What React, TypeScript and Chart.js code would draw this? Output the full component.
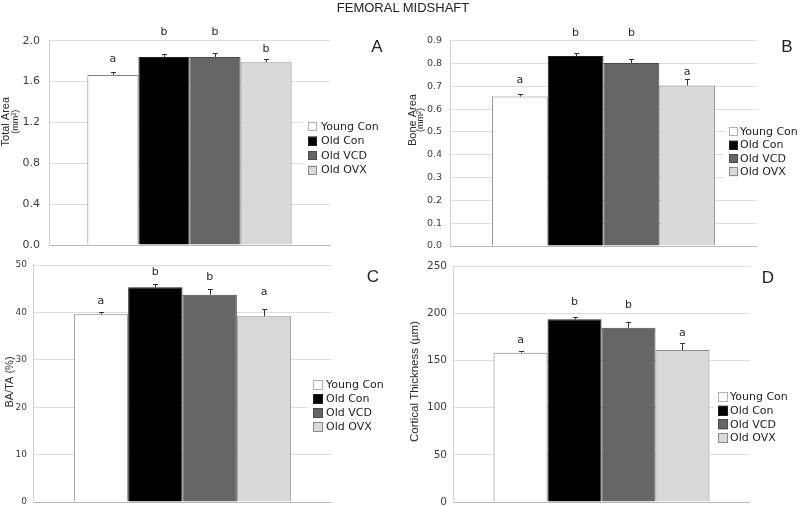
import React, { useEffect, useRef } from 'react';
import { Chart, registerables } from 'chart.js';

Chart.register(...registerables);

// ---------- data ----------
const groups = ['Young Con', 'Old Con', 'Old VCD', 'Old OVX'];

const totalArea = [1.665, 1.84, 1.84, 1.79];
const totalAreaErr = [0.03, 0.027, 0.04, 0.027];
const totalAreaLetters = ['a', 'b', 'b', 'b'];
const totalAreaLetterAt = [1.82, 2.085, 2.085, 1.92];
const totalAreaTicks = [0, 0.4, 0.8, 1.2, 1.6, 2.0];

const boneArea = [0.655, 0.833, 0.802, 0.704];
const boneAreaErr = [0.013, 0.011, 0.016, 0.027];
const boneAreaLetters = ['a', 'b', 'b', 'a'];
const boneAreaLetterAt = [0.728, 0.934, 0.934, 0.763];
const boneAreaTicks = [0, 0.1, 0.2, 0.3, 0.4, 0.5, 0.6, 0.7, 0.8, 0.9];

const baTa = [39.6, 45.3, 43.7, 39.2];
const baTaErr = [0.55, 0.6, 1.2, 1.5];
const baTaLetters = ['a', 'b', 'b', 'a'];
const baTaLetterAt = [42.3, 48.4, 47.4, 44.2];
const baTaTicks = [0, 10, 20, 30, 40, 50];

const corticalThickness = [158.2, 193.5, 184.6, 161];
const corticalThicknessErr = [2, 2.5, 5.7, 7];
const corticalThicknessLetters = ['a', 'b', 'b', 'a'];
const corticalThicknessLetterAt = [171.6, 211.5, 208.4, 179.3];
const corticalThicknessTicks = [0, 50, 100, 150, 200, 250];

// ---------- styles / layout ----------
const groupFill = ['#ffffff', '#000000', '#666666', '#d9d9d9'];
const groupBorder = ['#808080', '#202020', '#4a4a4a', '#8a8a8a'];
const VERDANA = '"DejaVu Sans", Verdana, sans-serif';
const ARIAL = '"Liberation Sans", Arial, sans-serif';

type PanelCfg = {
  key: string;
  values: number[];
  errors: number[];
  letters: string[];
  letterAt: number[];
  ticks: number[];
  decimals: number;
  canvas: { left: number; top: number; w: number; h: number };
  area: { left: number; right: number; top: number; bottom: number };
  tickFont: number;
  tickGap: number;
  titles: { text: string; x: number; size: number }[];
  titleY: number;
  label: { text: string; x: number; y: number };
  legend: { boxX: number; textX: number; y0: number; step: number; box: number };
};

const panels: PanelCfg[] = [
  {
    key: 'A', values: totalArea, errors: totalAreaErr, letters: totalAreaLetters, letterAt: totalAreaLetterAt,
    ticks: totalAreaTicks, decimals: 1,
    canvas: { left: 0, top: 0, w: 400, h: 280 },
    area: { left: 49, right: 330, top: 40.7, bottom: 245 },
    tickFont: 11, tickGap: 9,
    titles: [{ text: 'Total Area', x: 6, size: 11 }, { text: '(mm²)', x: 15.5, size: 9 }], titleY: 121.7,
    label: { text: 'A', x: 377, y: 47 },
    legend: { boxX: 308, textX: 321, y0: 126.5, step: 14.5, box: 9 },
  },
  {
    key: 'B', values: boneArea, errors: boneAreaErr, letters: boneAreaLetters, letterAt: boneAreaLetterAt,
    ticks: boneAreaTicks, decimals: 1,
    canvas: { left: 400, top: 0, w: 400, h: 280 },
    area: { left: 50, right: 357, top: 40.7, bottom: 246 },
    tickFont: 9.5, tickGap: 8,
    titles: [{ text: 'Bone Area', x: 12.5, size: 11 }, { text: '(mm²)', x: 20.5, size: 9 }], titleY: 120,
    label: { text: 'B', x: 387, y: 47 },
    legend: { boxX: 329, textX: 340, y0: 131.7, step: 13.4, box: 9 },
  },
  {
    key: 'C', values: baTa, errors: baTaErr, letters: baTaLetters, letterAt: baTaLetterAt,
    ticks: baTaTicks, decimals: 0,
    canvas: { left: 0, top: 253, w: 400, h: 280 },
    area: { left: 33, right: 332, top: 12, bottom: 249 },
    tickFont: 9, tickGap: 6,
    titles: [{ text: 'BA/TA (%)', x: 10, size: 11 }], titleY: 129,
    label: { text: 'C', x: 373, y: 24 },
    legend: { boxX: 313, textX: 326, y0: 132, step: 14, box: 10 },
  },
  {
    key: 'D', values: corticalThickness, errors: corticalThicknessErr, letters: corticalThicknessLetters,
    letterAt: corticalThicknessLetterAt, ticks: corticalThicknessTicks, decimals: 0,
    canvas: { left: 400, top: 253, w: 400, h: 280 },
    area: { left: 53, right: 350, top: 13, bottom: 249 },
    tickFont: 10.5, tickGap: 6,
    titles: [{ text: 'Cortical Thickness (µm)', x: 15, size: 11.5 }], titleY: 128.5,
    label: { text: 'D', x: 368, y: 25 },
    legend: { boxX: 318, textX: 330, y0: 144, step: 13.7, box: 10 },
  },
];

function makeDecor(cfg: PanelCfg) {
  return {
    id: 'decor' + cfg.key,
    afterDatasetsDraw(chart: any) {
      const ctx = chart.ctx;
      const y = chart.scales.y;
      ctx.save();
      ctx.strokeStyle = '#333333';
      ctx.lineWidth = 1;
      cfg.values.forEach((v, i) => {
        const el = chart.getDatasetMeta(i).data[0];
        if (!el) return;
        const x = Math.round(el.x) + 0.5;
        const yTop = Math.round(y.getPixelForValue(v + cfg.errors[i])) + 0.5;
        const yBar = y.getPixelForValue(v);
        ctx.beginPath();
        ctx.moveTo(x, yBar);
        ctx.lineTo(x, yTop);
        ctx.moveTo(x - 2.5, yTop);
        ctx.lineTo(x + 2.5, yTop);
        ctx.stroke();
      });
      ctx.restore();
    },
    afterDraw(chart: any) {
      const ctx = chart.ctx;
      const y = chart.scales.y;
      ctx.save();
      // significance letters
      ctx.fillStyle = '#2a2a2a';
      ctx.font = `11px ${VERDANA}`;
      ctx.textAlign = 'center';
      ctx.textBaseline = 'middle';
      cfg.letters.forEach((t, i) => {
        const el = chart.getDatasetMeta(i).data[0];
        if (!el) return;
        ctx.fillText(t, el.x, y.getPixelForValue(cfg.letterAt[i]));
      });
      // panel label
      ctx.font = `17px ${ARIAL}`;
      ctx.fillStyle = '#222222';
      ctx.fillText(cfg.label.text, cfg.label.x, cfg.label.y);
      // axis title
      cfg.titles.forEach((t) => {
        ctx.save();
        ctx.translate(t.x, cfg.titleY);
        ctx.rotate(-Math.PI / 2);
        ctx.font = `${t.size}px ${ARIAL}`;
        ctx.fillStyle = '#2a2a2a';
        ctx.textAlign = 'center';
        ctx.textBaseline = 'middle';
        ctx.fillText(t.text, 0, 0);
        ctx.restore();
      });
      // legend
      const lg = cfg.legend;
      ctx.fillStyle = '#ffffff';
      ctx.fillRect(lg.boxX - 5, lg.y0 - lg.step * 0.8, 90, lg.step * 4.6);
      ctx.font = `11px ${VERDANA}`;
      ctx.textAlign = 'left';
      ctx.textBaseline = 'middle';
      chart.data.datasets.forEach((ds: any, i: number) => {
        const cy = lg.y0 + i * lg.step;
        ctx.fillStyle = ds.backgroundColor;
        ctx.fillRect(lg.boxX, cy - lg.box / 2, lg.box, lg.box);
        ctx.strokeStyle = i === 0 ? '#b0b0b0' : ds.borderColor;
        ctx.lineWidth = 1;
        ctx.strokeRect(lg.boxX + 0.5, Math.round(cy - lg.box / 2) + 0.5, lg.box - 1, lg.box - 1);
        ctx.fillStyle = '#222222';
        ctx.fillText(ds.label, lg.textX, cy + 0.5);
      });
      ctx.restore();
    },
  };
}

function Panel({ cfg }: { cfg: PanelCfg }) {
  const ref = useRef<HTMLCanvasElement | null>(null);
  useEffect(() => {
    if (!ref.current) return;
    const { w, h } = cfg.canvas;
    const t = cfg.ticks;
    const chart = new Chart(ref.current, {
      type: 'bar',
      data: {
        labels: [''],
        datasets: groups.map((g, i) => ({
          label: g,
          data: [cfg.values[i]],
          backgroundColor: groupFill[i],
          borderColor: groupBorder[i],
          borderWidth: 1,
          categoryPercentage: 0.727,
          barPercentage: 1,
        })),
      },
      options: {
        animation: false,
        responsive: false,
        devicePixelRatio: 1,
        layout: {
          padding: {
            left: 0,
            top: cfg.area.top,
            right: w - cfg.area.right,
            bottom: h - cfg.area.bottom,
          },
        },
        plugins: {
          legend: { display: false },
          tooltip: { enabled: false },
          title: { display: false },
        },
        scales: {
          x: { display: false },
          y: {
            min: t[0],
            max: t[t.length - 1],
            afterFit: (scale: any) => {
              scale.width = cfg.area.left;
            },
            ticks: {
              stepSize: t[1] - t[0],
              padding: cfg.tickGap,
              color: '#3c3c3c',
              font: { family: VERDANA, size: cfg.tickFont },
              callback: (v: any) => Number(v).toFixed(cfg.decimals),
            },
            grid: {
              drawTicks: false,
              color: (c: any) => (c.tick && c.tick.value === 0 ? '#b8b8b8' : '#dedede'),
              lineWidth: 1,
            },
            border: { display: true, color: '#d2d2d2' },
          },
        },
      },
      plugins: [makeDecor(cfg)],
    } as any);
    return () => chart.destroy();
  }, [cfg]);
  const c = cfg.canvas;
  return (
    <canvas
      ref={ref}
      width={c.w}
      height={c.h}
      style={{ position: 'absolute', left: c.left, top: c.top, width: c.w, height: c.h }}
    />
  );
}

export default function App() {
  return (
    <div
      style={{
        position: 'fixed',
        left: 0,
        top: 0,
        width: 800,
        height: 506,
        overflow: 'hidden',
        background: '#ffffff',
      }}
    >
      {panels.map((p) => (
        <Panel key={p.key} cfg={p} />
      ))}
      <div
        style={{
          position: 'absolute',
          left: 0,
          top: 0,
          width: 806,
          textAlign: 'center',
          font: `13px ${ARIAL}`,
          lineHeight: '16px',
          color: '#222222',
          zIndex: 2,
        }}
      >
        FEMORAL MIDSHAFT
      </div>
    </div>
  );
}
